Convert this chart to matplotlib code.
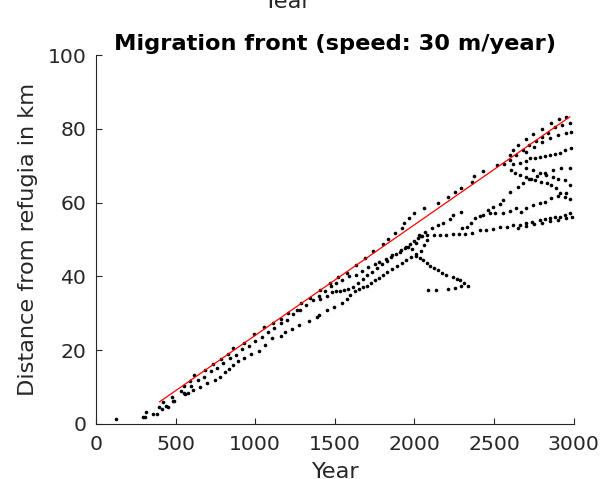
import matplotlib
matplotlib.use("Agg")
import matplotlib.pyplot as plt

# simulated front positions (year, distance in km), grouped by lineage
early_years = [124, 297, 307, 314, 356, 385, 393, 416, 437, 452]
early_dist = [1.3, 1.9, 1.9, 3.3, 2.8, 2.8, 4.5, 4.0, 4.9, 4.7]

front_years = [420, 475, 555, 590, 615, 685, 735, 785, 830, 860, 930, 990, 1055, 1110,
               1160, 1205, 1260, 1290, 1345, 1405, 1470, 1520, 1575, 1630, 1690, 1740,
               1805, 1835, 1875, 1920, 1935, 1965, 2000, 2060, 2150, 2210, 2255, 2295,
               2360, 2375, 2430, 2520, 2600, 2620, 2650, 2700, 2745, 2800, 2860, 2905, 2950]
front_dist = [5.9, 7.2, 10.4, 11.7, 13.3, 14.6, 16.2, 17.5, 19.0, 20.5, 22.0, 24.5, 26.2, 27.3,
              28.4, 30.0, 30.9, 32.7, 34.1, 36.3, 38.1, 39.9, 41.0, 43.1, 44.9, 47.0,
              48.8, 50.1, 51.7, 53.0, 54.4, 55.7, 57.1, 58.6, 60.0, 61.6, 62.8, 63.9,
              65.7, 67.2, 68.6, 70.2, 72.9, 74.3, 75.6, 77.2, 78.5, 80.0, 81.5, 82.8, 83.2]

near_years = [481, 493, 536, 550, 575, 600, 640, 680, 720, 760, 800, 840, 880, 920, 960,
              1000, 1040, 1080, 1120, 1160, 1200, 1240, 1280, 1320, 1360, 1400, 1440,
              1479, 1506, 1545, 1590, 1630, 1670, 1710, 1750, 1780, 1820, 1862, 1908,
              1939, 1960, 2012, 2029, 2065, 2107, 2150, 2180, 2220, 2243, 2290]
near_dist = [6.2, 6.2, 8.9, 8.3, 8.3, 10.3, 11.9, 12.6, 14.3, 15.1, 16.6, 17.9, 18.7, 20.2, 21.1,
             22.6, 23.5, 25.0, 26.1, 27.4, 28.3, 29.8, 30.8, 32.2, 33.5, 34.8, 36.0,
             37.4, 38.1, 39.0, 40.2, 40.5, 41.5, 42.5, 43.3, 44.0, 44.7, 45.8, 46.7,
             47.6, 48.0, 49.0, 51.2, 52.1, 53.0, 54.0, 54.4, 55.6, 56.6, 57.4]

low_years = [560, 610, 655, 700, 745, 782, 810, 835, 862, 892, 930, 975, 1021, 1060, 1103,
             1159, 1188, 1234, 1276, 1335, 1385, 1400, 1448, 1496, 1544, 1577, 1594, 1625,
             1650, 1680, 1700, 1725, 1750, 1775, 1800, 1830, 1860, 1890, 1920, 1950, 1980,
             2010, 2040, 2060, 2080]
low_dist = [8.0, 9.2, 10.0, 11.0, 12.0, 12.8, 14.0, 15.0, 16.0, 17.0, 18.0, 19.0, 19.9, 21.5, 23.2,
            23.8, 25.0, 25.8, 26.8, 27.9, 28.9, 29.5, 30.9, 31.8, 32.9, 33.9, 35.0, 36.0,
            36.6, 37.0, 37.5, 38.2, 39.0, 39.6, 40.3, 41.2, 42.0, 42.8, 43.6, 44.5, 45.2,
            46.0, 47.0, 48.5, 50.0]

mid_years = [1410, 1452, 1480, 1505, 1530, 1560, 1585, 1615, 1645, 1675, 1705, 1735, 1765,
             1795, 1825, 1855, 1885, 1915, 1945, 1975, 2000, 2025, 2050]
mid_dist = [33.8, 34.7, 35.8, 36.0, 36.1, 36.3, 36.5, 37.2, 38.2, 39.3, 40.3, 41.3, 42.3,
            43.3, 44.2, 45.2, 46.2, 47.2, 48.0, 48.8, 49.5, 50.3, 51.0]

down_years = [1985, 2012, 2035, 2054, 2080, 2100, 2125, 2148, 2175, 2196, 2240, 2265, 2284,
              2310, 2337]
down_dist = [47.5, 45.5, 45.0, 44.4, 43.5, 42.8, 42.2, 41.7, 41.0, 40.4, 39.8, 39.2, 39.0,
             38.2, 37.4]

stray_years = [2086, 2134, 2211, 2253, 2290]
stray_dist = [36.3, 36.3, 36.5, 36.8, 37.3]

base_years = [2040, 2080, 2120, 2160, 2200, 2240, 2280, 2320, 2360, 2410, 2450, 2490, 2535,
              2580, 2620, 2660, 2700, 2740, 2786, 2820, 2849, 2880, 2912, 2945, 2975]
base_dist = [51.0, 51.2, 51.3, 51.3, 51.2, 51.4, 51.5, 51.6, 51.8, 52.6, 52.5, 52.8, 53.5,
             53.5, 53.8, 54.0, 54.5, 54.8, 55.3, 55.5, 55.7, 56.0, 56.2, 56.6, 57.1]

base2_years = [2650, 2700, 2750, 2800, 2850, 2900, 2950, 2990]
base2_dist = [53.2, 53.6, 54.2, 54.6, 55.0, 55.4, 55.8, 56.2]

rise1_years = [2300, 2330, 2358, 2410, 2462, 2494, 2535, 2556, 2598, 2650, 2682, 2720, 2770,
               2820, 2870, 2920, 2975]
rise1_dist = [53.0, 53.5, 54.4, 56.4, 58.0, 58.7, 59.6, 60.7, 63.0, 64.3, 65.2, 66.3, 67.3,
              68.0, 68.8, 69.3, 69.4]

rise2_years = [2380, 2431, 2473, 2504, 2556, 2600, 2640, 2672, 2703, 2745, 2790, 2818, 2860,
               2900, 2950]
rise2_dist = [55.7, 56.6, 57.3, 57.1, 57.1, 57.8, 58.5, 57.5, 58.5, 59.3, 60.0, 60.2, 61.2,
              61.8, 62.5]

fall1_years = [2609, 2630, 2660, 2703, 2734, 2755, 2797, 2830, 2860, 2891, 2912, 2944, 2975]
fall1_dist = [68.8, 67.9, 67.5, 67.0, 66.4, 66.0, 65.7, 65.3, 64.8, 63.9, 62.5, 61.6, 61.0]

fall2_years = [2700, 2745, 2790, 2829, 2870, 2902, 2944, 2975]
fall2_dist = [69.5, 68.8, 68.0, 67.5, 67.0, 66.5, 66.1, 64.8]

row74_years = [2620, 2660, 2700, 2724, 2755, 2790, 2820, 2849, 2880, 2912, 2944, 2986]
row74_dist = [70.4, 70.8, 71.3, 72.0, 72.2, 72.4, 72.6, 72.9, 73.2, 73.4, 74.3, 74.7]

front2_years = [2560, 2600, 2640, 2680, 2720, 2760, 2800, 2840, 2881, 2929, 2975]
front2_dist = [70.5, 71.5, 72.8, 74.2, 75.6, 76.7, 77.8, 78.8, 80.4, 81.0, 81.5]

front3_years = [2700, 2750, 2800, 2850, 2900, 2950, 2985]
front3_dist = [73.8, 75.2, 76.3, 77.5, 78.3, 79.0, 79.2]

# fitted migration front
speed_m_per_year = 30
fit_start, fit_end, fit_origin = 400, 2975, 200

branches = [
    (early_years, early_dist), (front_years, front_dist), (near_years, near_dist),
    (low_years, low_dist), (mid_years, mid_dist), (down_years, down_dist),
    (stray_years, stray_dist), (base_years, base_dist), (base2_years, base2_dist),
    (rise1_years, rise1_dist), (rise2_years, rise2_dist), (fall1_years, fall1_dist),
    (fall2_years, fall2_dist), (row74_years, row74_dist), (front2_years, front2_dist),
    (front3_years, front3_dist),
]

axis_color = "#262626"
tick_size = 14.7
label_size = 16.2
plt.rcParams["font.family"] = "DejaVu Sans"

fig = plt.figure(figsize=(6.11, 4.79), dpi=100)
ax = fig.add_axes([0.157, 0.115, 0.782, 0.770])

for years, dist in branches:
    ax.plot(years, dist, linestyle="none", marker="o", markersize=2.6,
            color="black", markeredgewidth=0)

fit_years = [fit_start, fit_end]
fit_dist = [speed_m_per_year / 1000 * (y - fit_origin) for y in fit_years]
ax.plot(fit_years, fit_dist, color="red", linewidth=0.9)

ax.set_xlim(0, 3000)
ax.set_ylim(0, 100)
ax.set_xticks(range(0, 3001, 500))
ax.set_yticks(range(0, 101, 20))

for side in ["top", "right"]:
    ax.spines[side].set_visible(False)
for side in ["left", "bottom"]:
    ax.spines[side].set_color(axis_color)
    ax.spines[side].set_linewidth(0.8)
ax.tick_params(direction="in", length=4, width=0.8, colors=axis_color,
               labelsize=tick_size)
ax.tick_params(axis="x", pad=8)
ax.tick_params(axis="y", pad=7)

ax.set_xlabel("Year", fontsize=label_size, color=axis_color, labelpad=6)
ax.set_ylabel("Distance from refugia in km", fontsize=label_size, color=axis_color,
              labelpad=7)
ax.set_title("Migration front (speed: 30 m/year)", fontsize=label_size, fontweight="bold",
             color="black", pad=4)

# x label of the panel above, cut by the figure edge
fig.text(287 / 611, 1 - 8 / 479, "Year", fontsize=label_size, color=axis_color,
         ha="center", va="baseline")

fig.savefig("out.png", dpi=100)
